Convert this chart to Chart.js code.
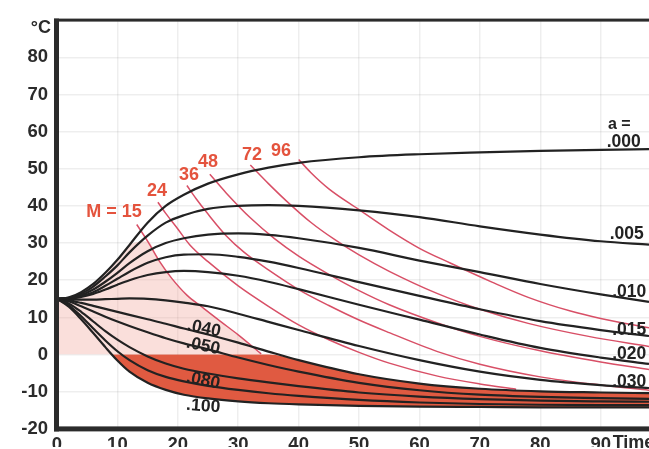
<!DOCTYPE html>
<html>
<head>
<meta charset="utf-8">
<script src="https://cdn.jsdelivr.net/npm/chart.js@4.4.1/dist/chart.umd.min.js"></script>
<style>
  html, body { margin: 0; padding: 0; background: #fff; overflow: hidden; }
  #wrap { width: 649px; height: 449px; }
</style>
</head>
<body>
<div id="wrap"><canvas id="c" width="649" height="449"></canvas></div>
<script>
// Sample times shared by every temperature curve
const times = [0, 2, 4, 6, 8, 10, 12, 15, 18, 21, 25, 30, 35, 40, 50, 60, 70, 80, 90, 98];

// Temperature (°C) for each value of a
const a000 = [15, 15.4, 16.8, 19, 22, 25.5, 29.5, 35.5, 40, 43, 46, 48.5, 50.3, 51.6, 53.1, 53.9, 54.4, 54.8, 55.1, 55.3];
const a005 = [15, 15.3, 16.4, 18.3, 21, 24, 27.5, 32, 35.5, 37.5, 39.2, 40, 40.2, 40, 38.8, 37, 34.5, 32.3, 30.5, 29.6];
const a010 = [15, 15.2, 16, 17.5, 19.6, 22, 24.6, 27.8, 30, 31.3, 32.3, 32.6, 32.2, 31.3, 28.7, 25.3, 22.2, 19, 16.2, 14.2];
const a015 = [15, 15.1, 15.7, 16.8, 18.5, 20.4, 22.3, 24.7, 26.2, 26.9, 27, 26.3, 25, 23.3, 19.5, 15.8, 12.2, 9, 6.6, 5];
const a020 = [15, 15, 15.5, 16.3, 17.5, 18.8, 20, 21.4, 22.2, 22.5, 22.2, 21.2, 19.6, 17.6, 13.4, 9.4, 5.4, 1.8, -0.8, -2.5];
const a030 = [15, 14.9, 14.8, 14.8, 14.9, 15, 15.1, 15, 14.6, 14, 13, 11, 8.8, 6.6, 2.3, -1.5, -4.6, -6.8, -8.2, -9];
const a040 = [15, 14.6, 13.9, 13.1, 12.3, 11.5, 10.7, 9.5, 8.3, 7, 5.4, 3.2, 0.8, -1.5, -5.3, -7.8, -9.2, -9.9, -10.2, -10.4];
const a050 = [15, 14.3, 13, 11.6, 10.2, 8.9, 7.7, 6, 4.4, 3, 1.4, -0.8, -2.8, -4.6, -7.6, -9.6, -10.8, -11.4, -11.7, -11.9];
const a060 = [15, 13.7, 11.5, 8.9, 6.3, 4, 2, -0.5, -2.4, -3.8, -5.1, -6.4, -7.5, -8.5, -10.2, -11.3, -12, -12.4, -12.6, -12.7];
const a080 = [15, 13.2, 10.3, 7, 3.8, 0.9, -1.5, -4.2, -6, -7.2, -8.4, -9.5, -10.4, -11.1, -12.2, -12.9, -13.3, -13.5, -13.6, -13.6];
const a100 = [15, 12.8, 9.5, 5.8, 2, -1.6, -4.6, -7.6, -9.5, -10.8, -11.8, -12.6, -13.1, -13.4, -13.8, -14, -14.1, -14.2, -14.2, -14.2];

// Lines of constant M: time and temperature pairs
const m15T = [13.2, 15, 17, 19, 21.5, 24, 27, 30, 33.8];
const m15V = [35, 30.5, 25, 20.5, 16, 12.8, 9, 5.3, 0.2];
const m24T = [16.7, 18, 20, 22, 25, 30, 35, 40, 45, 50, 55, 63, 70, 76];
const m24V = [41, 38, 33.8, 29.5, 25, 18.5, 13, 8, 4, 0.6, -2.3, -5.8, -7.9, -9.3];
const m36T = [21.5, 23, 25, 28, 31, 35, 40, 45, 50, 55, 63, 70, 80, 90, 98];
const m36V = [45.5, 42, 37.8, 32, 27.5, 22.8, 17.5, 13.2, 9.3, 5.9, 0.8, -2.6, -6, -8.2, -9.6];
const m48T = [25.3, 28, 32, 36, 40, 45, 50, 55, 63, 70, 80, 90, 98];
const m48V = [48.5, 43.5, 36.8, 31.2, 26.5, 21.6, 17.2, 13.4, 8.5, 4.9, 1, -2, -4];
const m72T = [32, 35, 38, 42, 46, 50, 55, 63, 70, 78, 88, 98];
const m72V = [51, 46, 41.3, 35.6, 30.9, 26.8, 22.4, 16.4, 12.2, 8.4, 4.9, 2.2];
const m96T = [40, 42, 45, 50, 55, 60, 65, 72, 78, 85, 90, 98];
const m96V = [52.5, 49, 44.6, 39, 33.5, 28.6, 24.7, 19.5, 15.4, 11.7, 9.7, 7.2];

// Axis ticks
const xTicks = [0, 10, 20, 30, 40, 50, 60, 70, 80, 90];
const yTicks = [-20, -10, 0, 10, 20, 30, 40, 50, 60, 70, 80];

// Text labels
const aNames = ['.000', '.005', '.010', '.015', '.020', '.030', '.040', '.050', '.060', '.080', '.100'];
const mNames = ['M = 15', '24', '36', '48', '72', '96'];

const aSeries = [a000, a005, a010, a015, a020, a030, a040, a050, a060, a080, a100];
const mSeries = [[m15T, m15V], [m24T, m24V], [m36T, m36V], [m48T, m48V], [m72T, m72V], [m96T, m96V]];

const pts = (xs, ys) => xs.map((x, i) => ({ x, y: ys[i] }));

const BLACK = '#222222';
const RED_LINE = '#d84f66';
const RED_FILL = '#e05a41';
const PINK = 'rgba(240,150,135,0.30)';
const FONT = '"Liberation Sans", Arial, sans-serif';

const datasets = [];

// Temperature curves (drawn on top)
aSeries.forEach((vals, i) => {
  datasets.push({
    label: 'a = ' + aNames[i],
    data: pts(times, vals),
    borderColor: BLACK,
    borderWidth: 2.2,
    pointRadius: 0,
    fill: false,
    cubicInterpolationMode: 'monotone',
    order: 1
  });
});
const idx100 = aNames.indexOf('.100');

// Constant-M lines
mSeries.forEach(([ts, vs], i) => {
  datasets.push({
    label: mNames[i],
    data: pts(ts, vs),
    borderColor: RED_LINE,
    borderWidth: 1.5,
    pointRadius: 0,
    fill: false,
    cubicInterpolationMode: 'monotone',
    order: 2
  });
});

// Freezing band: below 0 °C and above the a = .100 curve, cut off by the a = .040 curve
datasets.push({
  label: 'freeze',
  data: times.map((t, i) => ({ x: t, y: Math.min(0, a040[i]) })),
  borderWidth: 0,
  borderColor: 'rgba(0,0,0,0)',
  pointRadius: 0,
  cubicInterpolationMode: 'monotone',
  fill: { target: idx100, above: RED_FILL, below: 'rgba(0,0,0,0)' },
  order: 3
});

// Light zone: under the a = .000 curve, left of the M = 15 line, above 0 °C
const pinkEdge = pts(times, a000).filter(p => p.x < 13).concat(pts(m15T, m15V).filter(p => p.x > 14));
datasets.push({
  label: 'warm',
  data: pinkEdge,
  borderWidth: 0,
  borderColor: 'rgba(0,0,0,0)',
  pointRadius: 0,
  cubicInterpolationMode: 'monotone',
  fill: { target: 'origin', above: PINK, below: 'rgba(0,0,0,0)' },
  order: 4
});

// Text placed in data units
const RED_TEXT = '#e4533d';
const textItems = [
  { text: 'a =', x: 91.2, y: 61.9, align: 'left', color: BLACK, size: 16 },
  { text: aNames[0], x: 91.0, y: 57.1, align: 'left', color: BLACK, size: 17.5 },
  { text: aNames[1], x: 91.5, y: 32.5, align: 'left', color: BLACK, size: 17.5 },
  { text: aNames[2], x: 91.9, y: 16.8, align: 'left', color: BLACK, size: 17.5 },
  { text: aNames[3], x: 91.9, y: 6.5, align: 'left', color: BLACK, size: 17.5 },
  { text: aNames[4], x: 91.9, y: 0.15, align: 'left', color: BLACK, size: 17.5 },
  { text: aNames[5], x: 91.9, y: -7.3, align: 'left', color: BLACK, size: 17.5 },
  { text: aNames[6], x: 24.3, y: 7.0, align: 'center', color: BLACK, size: 17.5, rot: 12 },
  { text: aNames[7], x: 24.2, y: 2.3, align: 'center', color: BLACK, size: 17.5, rot: 12 },
  { text: aNames[9], x: 24.2, y: -7.0, align: 'center', color: BLACK, size: 17.5, rot: 12 },
  { text: aNames[10], x: 24.2, y: -13.9, align: 'center', color: BLACK, size: 17.5, rot: 4 },
  { text: mNames[0], x: 9.44, y: 38.3, align: 'center', color: RED_TEXT, size: 18 },
  { text: mNames[1], x: 16.56, y: 43.9, align: 'center', color: RED_TEXT, size: 18 },
  { text: mNames[2], x: 21.85, y: 48.4, align: 'center', color: RED_TEXT, size: 18 },
  { text: mNames[3], x: 25.0, y: 51.8, align: 'center', color: RED_TEXT, size: 18 },
  { text: mNames[4], x: 32.3, y: 53.7, align: 'center', color: RED_TEXT, size: 18 },
  { text: mNames[5], x: 37.1, y: 54.7, align: 'center', color: RED_TEXT, size: 18 }
];

const framePlugin = {
  id: 'frame',
  afterDatasetsDraw(chart) {
    const { ctx, chartArea: a } = chart;
    ctx.save();
    ctx.fillStyle = '#2b2b2b';
    ctx.fillRect(a.left - 3, a.top - 1.5, 5, a.bottom - a.top + 4);
    ctx.fillRect(a.left - 3, a.top - 1.5, a.right - a.left + 3, 3);
    ctx.fillRect(a.left - 3, a.bottom - 2.5, a.right - a.left + 3, 5);
    ctx.restore();
  },
  afterDraw(chart) {
    const { ctx, scales: { x, y }, chartArea: a } = chart;
    ctx.save();
    ctx.textBaseline = 'middle';
    textItems.forEach(it => {
      const px = x.getPixelForValue(it.x);
      const py = y.getPixelForValue(it.y);
      ctx.font = 'bold ' + it.size + 'px ' + FONT;
      ctx.fillStyle = it.color;
      ctx.textAlign = it.align;
      ctx.save();
      ctx.translate(px, py);
      if (it.rot) ctx.rotate(it.rot * Math.PI / 180);
      ctx.fillText(it.text, 0, 0);
      ctx.restore();
    });
    // unit label at the top of the y axis
    ctx.font = 'bold 18px ' + FONT;
    ctx.fillStyle = '#2b2b2b';
    ctx.textAlign = 'right';
    ctx.textBaseline = 'top';
    ctx.fillText('°C', a.left - 6, a.top - 1);
    // axis title after the last time tick
    const lastTick = chart.scales.x.ticks[chart.scales.x.ticks.length - 1];
    ctx.textAlign = 'left';
    ctx.fillText('Time', x.getPixelForValue(lastTick.value) + 12, a.bottom + 5);
    ctx.restore();
  }
};

new Chart(document.getElementById('c'), {
  type: 'line',
  data: { datasets },
  options: {
    responsive: false,
    animation: false,
    devicePixelRatio: 1,
    layout: { padding: { top: 16, right: 0, bottom: 0, left: 0 } },
    plugins: { legend: { display: false }, tooltip: { enabled: false } },
    scales: {
      x: {
        type: 'linear',
        min: 0,
        max: 98,
        afterBuildTicks: s => { s.ticks = xTicks.map(v => ({ value: v })); },
        afterFit: s => { s.height = 18; },
        ticks: { color: '#2b2b2b', padding: 5, maxRotation: 0, autoSkip: false,
                 font: { family: FONT, size: 18.5, weight: 'bold' }, callback: v => String(v) },
        grid: { color: 'rgba(0,0,0,0.065)', lineWidth: 1.5, drawTicks: false },
        border: { display: false }
      },
      y: {
        type: 'linear',
        min: -20,
        max: 90,
        afterBuildTicks: s => { s.ticks = yTicks.concat([90]).map(v => ({ value: v })); },
        afterFit: s => { s.width = 57; },
        ticks: { color: '#2b2b2b', padding: 9, autoSkip: false,
                 font: { family: FONT, size: 18.5, weight: 'bold' },
                 callback: v => (v === 90 ? '' : String(v)) },
        grid: { color: 'rgba(0,0,0,0.065)', lineWidth: 1.5, drawTicks: false },
        border: { display: false }
      }
    }
  },
  plugins: [framePlugin]
});
</script>
</body>
</html>
